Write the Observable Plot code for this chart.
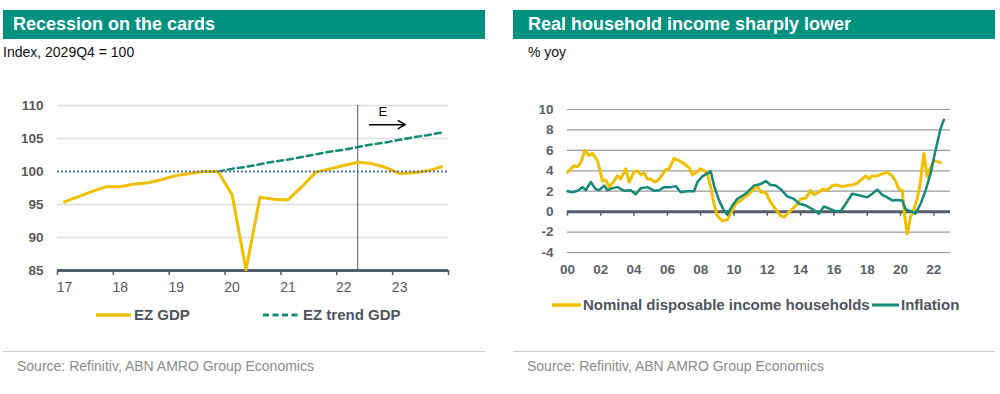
<!DOCTYPE html>
<html><head><meta charset="utf-8">
<script src="https://cdn.jsdelivr.net/npm/d3@7"></script>
<script src="https://cdn.jsdelivr.net/npm/@observablehq/plot@0.6"></script>
<style>
body{margin:0;width:1000px;height:394px;position:relative;background:#fff;font-family:"Liberation Sans",Arial,sans-serif;overflow:hidden}
.abs{position:absolute;white-space:nowrap}
.hdr{top:10px;height:29px;background:#00917f;color:#fff;font-weight:bold;font-size:18px;line-height:29px;box-sizing:border-box}
.sub{top:44px;font-size:14px;line-height:16px;color:#111}
.leg{font-weight:bold;font-size:15px;line-height:18px;color:#4d5560;display:flex;align-items:center}
.sep{top:351px;height:1px;background:#c9c9c9}
.src{top:358px;font-size:14px;line-height:16px;color:#8c8c8c}
</style></head>
<body>
<div class="abs hdr" style="left:3px;width:482px;padding-left:10px">Recession on the cards</div>
<div class="abs sub" style="left:3px">Index, 2029Q4 = 100</div>
<div class="abs hdr" style="left:513px;width:482px;padding-left:15px">Real household income sharply lower</div>
<div class="abs sub" style="left:528px">% yoy</div>
<div id="left" class="abs" style="left:0;top:90px"></div>
<div id="right" class="abs" style="left:500px;top:90px"></div>
<div class="abs leg" style="left:96px;top:306px"><svg width="38" height="6"><line x1="0" x2="35" y1="3" y2="3" stroke="#f0bf00" stroke-width="3.5"/></svg><span>EZ GDP</span></div>
<div class="abs leg" style="left:263px;top:306px"><svg width="40" height="6"><line x1="0" x2="35" y1="3" y2="3" stroke="#13897a" stroke-width="3" stroke-dasharray="6,3.5"/></svg><span>EZ trend GDP</span></div>
<div class="abs leg" style="left:552px;top:296px"><svg width="31" height="6"><line x1="0" x2="29" y1="3" y2="3" stroke="#f0bf00" stroke-width="3.5"/></svg><span>Nominal disposable income households</span></div>
<div class="abs leg" style="left:872px;top:296px"><svg width="29" height="6"><line x1="0" x2="27" y1="3" y2="3" stroke="#13897a" stroke-width="3"/></svg><span>Inflation</span></div>
<div class="abs sep" style="left:3px;width:482px"></div>
<div class="abs sep" style="left:513px;width:482px"></div>
<div class="abs src" style="left:17px">Source: Refinitiv, ABN AMRO Group Economics</div>
<div class="abs src" style="left:527px">Source: Refinitiv, ABN AMRO Group Economics</div>
<script>
// ---------- Left chart data ----------
const gdpQuarters = ["17Q1","17Q2","17Q3","17Q4","18Q1","18Q2","18Q3","18Q4","19Q1","19Q2","19Q3","19Q4",
  "20Q1","20Q2","20Q3","20Q4","21Q1","21Q2","21Q3","21Q4","22Q1","22Q2","22Q3","22Q4","23Q1","23Q2","23Q3","23Q4"];
const gdpValues = [95.4,96.2,97.0,97.7,97.7,98.1,98.3,98.8,99.4,99.7,100.0,100.0,
  96.5,85.1,96.1,95.8,95.7,97.7,99.9,100.4,100.9,101.4,101.2,100.6,99.7,99.8,100.1,100.7];
const trendQuarters = ["19Q4","20Q1","20Q2","20Q3","20Q4","21Q1","21Q2","21Q3","21Q4","22Q1","22Q2","22Q3","22Q4","23Q1","23Q2","23Q3","23Q4"];
const trendValues = [100.0,100.4,100.7,101.1,101.5,101.8,102.2,102.6,103.0,103.3,103.7,104.1,104.4,104.8,105.2,105.5,105.9];
const leftYearTicks = [17,18,19,20,21,22,23,24];
const leftYearLabels = ["17","18","19","20","21","22","23"];
const leftYTicks = [85,90,95,100,105,110];
const leftGrid = [90,95,105,110];
const baseLevel = [100];
const forecastStart = "22Q2";
const forecastLabel = "E";

// ---------- Right chart data ----------
const incomeYears = [2000.0,2000.2,2000.4,2000.6,2000.8,2001.05,2001.3,2001.5,2001.8,2002.0,2002.1,2002.3,2002.5,2002.7,2003.0,2003.2,2003.5,2003.7,2004.0,2004.2,2004.4,2004.6,2004.8,2005.0,2005.2,2005.4,2005.6,2005.9,2006.1,2006.4,2006.7,2007.0,2007.3,2007.5,2007.7,2008.0,2008.2,2008.4,2008.6,2008.8,2009.0,2009.3,2009.6,2009.8,2010.1,2010.4,2010.8,2011.2,2011.4,2011.6,2011.9,2012.2,2012.5,2012.8,2013.0,2013.2,2013.5,2013.8,2014.0,2014.3,2014.6,2014.8,2015.1,2015.3,2015.6,2015.9,2016.2,2016.5,2016.8,2017.1,2017.4,2017.7,2017.9,2018.1,2018.3,2018.6,2018.9,2019.2,2019.5,2019.7,2019.9,2020.1,2020.25,2020.4,2020.6,2020.8,2021.0,2021.2,2021.4,2021.6,2021.8,2022.0,2022.2,2022.4];
const incomeValues = [3.85,4.2,4.5,4.4,4.8,6.0,5.5,5.7,5.0,3.7,3.0,3.1,2.4,2.8,3.5,3.2,4.2,2.9,3.9,4.0,3.6,3.8,3.2,3.2,2.9,3.0,3.4,4.1,4.2,5.2,5.0,4.7,4.3,3.6,3.8,4.2,4.0,3.7,2.4,0.75,-0.4,-0.9,-0.8,-0.1,0.75,1.1,1.6,2.2,2.55,1.9,1.9,0.9,0.25,-0.4,-0.55,-0.2,0.25,0.75,1.25,1.3,2.05,1.65,1.9,2.2,2.1,2.55,2.6,2.45,2.55,2.6,2.8,3.2,3.5,3.2,3.5,3.5,3.7,3.85,3.5,3.0,2.2,2.05,-0.4,-2.2,-0.55,0.25,1.25,3.0,5.7,3.4,4.3,5.0,4.9,4.8];
const inflationYears = [2000.0,2000.3,2000.6,2000.9,2001.1,2001.4,2001.7,2001.9,2002.2,2002.4,2002.7,2003.0,2003.4,2003.8,2004.1,2004.4,2004.8,2005.2,2005.5,2005.8,2006.2,2006.5,2006.8,2007.2,2007.6,2007.8,2008.1,2008.4,2008.6,2008.8,2009.1,2009.4,2009.6,2009.9,2010.2,2010.6,2010.8,2011.2,2011.6,2011.9,2012.2,2012.5,2012.8,2013.2,2013.6,2013.9,2014.3,2014.7,2015.1,2015.4,2015.8,2016.1,2016.4,2016.7,2017.1,2017.5,2018.0,2018.3,2018.6,2018.9,2019.2,2019.5,2019.8,2020.1,2020.3,2020.6,2020.9,2021.2,2021.5,2021.8,2022.1,2022.4,2022.6];
const inflationValues = [2.0,1.9,2.05,2.4,2.1,2.9,2.2,2.1,2.55,2.1,2.3,2.4,2.05,2.1,1.7,2.3,2.4,2.05,2.1,2.4,2.4,2.5,1.9,2.0,2.0,2.9,3.45,3.75,3.95,2.55,1.1,0.1,-0.3,0.6,1.25,1.65,1.9,2.55,2.7,3.0,2.6,2.55,2.2,1.5,1.25,0.8,0.6,0.25,-0.2,0.5,0.25,0.05,0.05,0.75,1.75,1.6,1.4,1.75,2.15,1.65,1.4,1.1,1.15,1.1,0.25,0.05,-0.2,0.75,2.05,3.7,6.0,8.1,9.0];
const rightYearTicks = [2000,2002,2004,2006,2008,2010,2012,2014,2016,2018,2020,2022];
const rightYTicks = [-4,-2,0,2,4,6,8,10];
const rightGrid = [-4,-2,2,4,6,8,10];

// ---------- helpers ----------
const YELLOW = "#f0bf00", TEAL = "#13897a", AXIS = "#565d64";
function qpos(q){ const y = +q.slice(0,2), n = +q.slice(3); return y + (n - 0.5) / 4; }
const gdp = gdpQuarters.map((q,i)=>({t:qpos(q), v:gdpValues[i]}));
const trend = trendQuarters.map((q,i)=>({t:qpos(q), v:trendValues[i]}));
const fx = qpos(forecastStart);
const income = incomeYears.map((t,i)=>({t, v:incomeValues[i]}));
const inflation = inflationYears.map((t,i)=>({t, v:inflationValues[i]}));

const left = Plot.plot({
  width: 500, height: 210, marginLeft: 57, marginRight: 52, marginTop: 15, marginBottom: 30,
  x: {domain: [17, 24]}, y: {domain: [85, 110]},
  style: {fontFamily: "Liberation Sans, Arial, sans-serif", fontSize: "13px", color: "#595959", background: "transparent", overflow: "visible"},
  marks: [
    Plot.gridY(leftGrid, {stroke: "#dedede", strokeOpacity: 1, strokeWidth: 1.5}),
    Plot.axisY(leftYTicks, {tickSize: 0, tickPadding: 14, fontSize: 13.5, fontWeight: "bold", label: null, tickFormat: d => String(d)}),
    Plot.axisX(leftYearLabels.map(s => qpos(s + "Q1")), {tickSize: 0, tickPadding: 12, fontSize: 14, label: null, tickFormat: d => String(Math.floor(d))}),
    Plot.axisX(leftYearTicks, {tickSize: 5, tickFormat: () => "", label: null, stroke: AXIS, strokeWidth: 1.5}),
    Plot.ruleY([85], {stroke: AXIS, strokeWidth: 3}),
    Plot.ruleX([fx], {y1: 85, y2: 110, stroke: "#5a5a5a", strokeWidth: 1}),
    Plot.line(trend, {x: "t", y: "v", stroke: TEAL, strokeWidth: 2.5, strokeDasharray: "6,4"}),
    Plot.line(gdp, {x: "t", y: "v", stroke: YELLOW, strokeWidth: 3}),
    Plot.ruleY(baseLevel, {stroke: "#3e63a8", strokeWidth: 1.8, strokeDasharray: "1.8,2.2"}),
    Plot.text([forecastLabel], {x: fx + 0.45, y: 109.1, fontSize: 13, fill: "#000"}),
    Plot.arrow([0], {x1: fx + 0.21, x2: fx + 0.85, y1: 107.1, y2: 107.1, stroke: "#000", strokeWidth: 1.5, headLength: 8})
  ]
});
document.getElementById("left").appendChild(left);

const right = Plot.plot({
  width: 500, height: 210, marginLeft: 67, marginRight: 50, marginTop: 19, marginBottom: 48,
  x: {domain: [2000, 2023]}, y: {domain: [-4, 10]},
  style: {fontFamily: "Liberation Sans, Arial, sans-serif", fontSize: "13px", color: "#5a6068", background: "transparent", overflow: "visible"},
  marks: [
    Plot.gridY(rightGrid, {stroke: "#9a9a9a", strokeOpacity: 1, strokeWidth: 1.2}),
    Plot.axisY(rightYTicks, {tickSize: 0, tickPadding: 14, fontSize: 13.5, fontWeight: "bold", label: null, tickFormat: d => String(d)}),
    Plot.axisX(rightYearTicks, {tickSize: 0, tickPadding: 12, fontSize: 13.5, fontWeight: "bold", label: null, tickFormat: d => String(d % 100).padStart(2, "0")}),
    Plot.ruleY([0], {stroke: AXIS, strokeWidth: 3}),
    Plot.ruleX(rightYearTicks, {y1: 0, y2: -0.45, stroke: AXIS, strokeWidth: 1.5}),
    Plot.line(income, {x: "t", y: "v", stroke: YELLOW, strokeWidth: 3}),
    Plot.line(inflation, {x: "t", y: "v", stroke: TEAL, strokeWidth: 2.5})
  ]
});
document.getElementById("right").appendChild(right);
</script>
</body></html>
